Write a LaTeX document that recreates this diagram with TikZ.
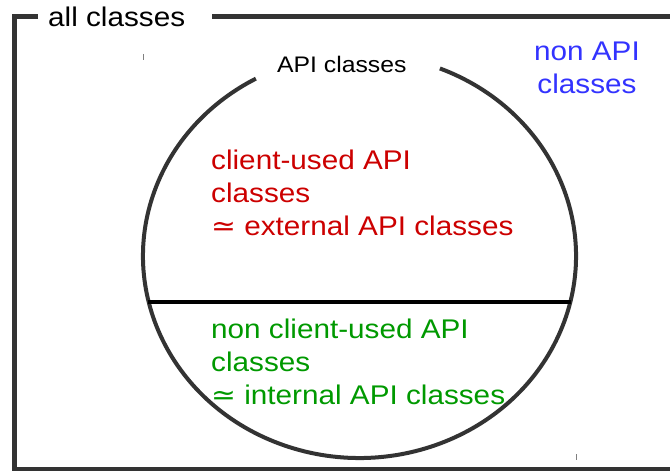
\documentclass[tikz,border=0pt]{standalone}
\usepackage{fontspec}
\setmainfont[FakeStretch=1.1]{Liberation Sans}
\newfontfamily\symfont[FakeStretch=1.1]{DejaVu Sans}
\usetikzlibrary{positioning}
\definecolor{framegray}{RGB}{51,51,51}
\definecolor{clientred}{RGB}{204,0,0}
\definecolor{internalgreen}{RGB}{0,153,0}
\definecolor{nonapiblue}{RGB}{51,51,255}

\begin{document}
\begin{tikzpicture}[
    x=1bp, y=-1bp,
    frame/.style={draw=framegray, line width=5bp},
    setline/.style={draw=framegray, line width=4bp},
    splitline/.style={draw=black, line width=4bp},
    classtext/.style={inner sep=0pt, font=\fontsize{27bp}{33bp}\selectfont, align=left},
    smalltext/.style={inner sep=0pt, font=\fontsize{22.5bp}{27bp}\selectfont},
    tickmark/.style={draw=gray, line width=1bp}
]
    \useasboundingbox (0,0) rectangle (670,471);

    % outer set: all classes
    \draw[frame] (38,16.5) -| (14.5,469) -- (672,469);
    \draw[frame] (212,16.5) -- (672,16.5);
    \node[classtext, anchor=base west] (allclasses) at (48,27) {all classes};

    % API classes set
    \coordinate (apicenter) at (359.5,256);
    \draw[setline] (apicenter) ++(-68.2:216.5 and 202)
        arc[start angle=-68.2, end angle=241.4, x radius=216.5, y radius=202];
    \node[smalltext, anchor=base west] (apiclasses) at (277,73) {API classes};
    \draw[tickmark] (143.5,54) -- (143.5,60);
    \draw[tickmark] (576.5,454) -- (576.5,460);

    % split into client-used / internal
    \coordinate (splitwest) at (148,302);
    \coordinate (spliteast) at (571,302);
    \draw[splitline] (splitwest) -- (spliteast);

    % base anchor sits on the last line
    \node[classtext, text=nonapiblue, align=center, anchor=base] (nonapi) at (587,94) {non API\\classes};
    \node[classtext, text=clientred, anchor=base west] (clientused) at (211,236)
        {client-used API\\classes\\{\symfont ≃} external API classes};
    \node[classtext, text=internalgreen, anchor=base west] (internal) at (211,404)
        {non client-used API\\classes\\{\symfont ≃} internal API classes};
\end{tikzpicture}
\end{document}
